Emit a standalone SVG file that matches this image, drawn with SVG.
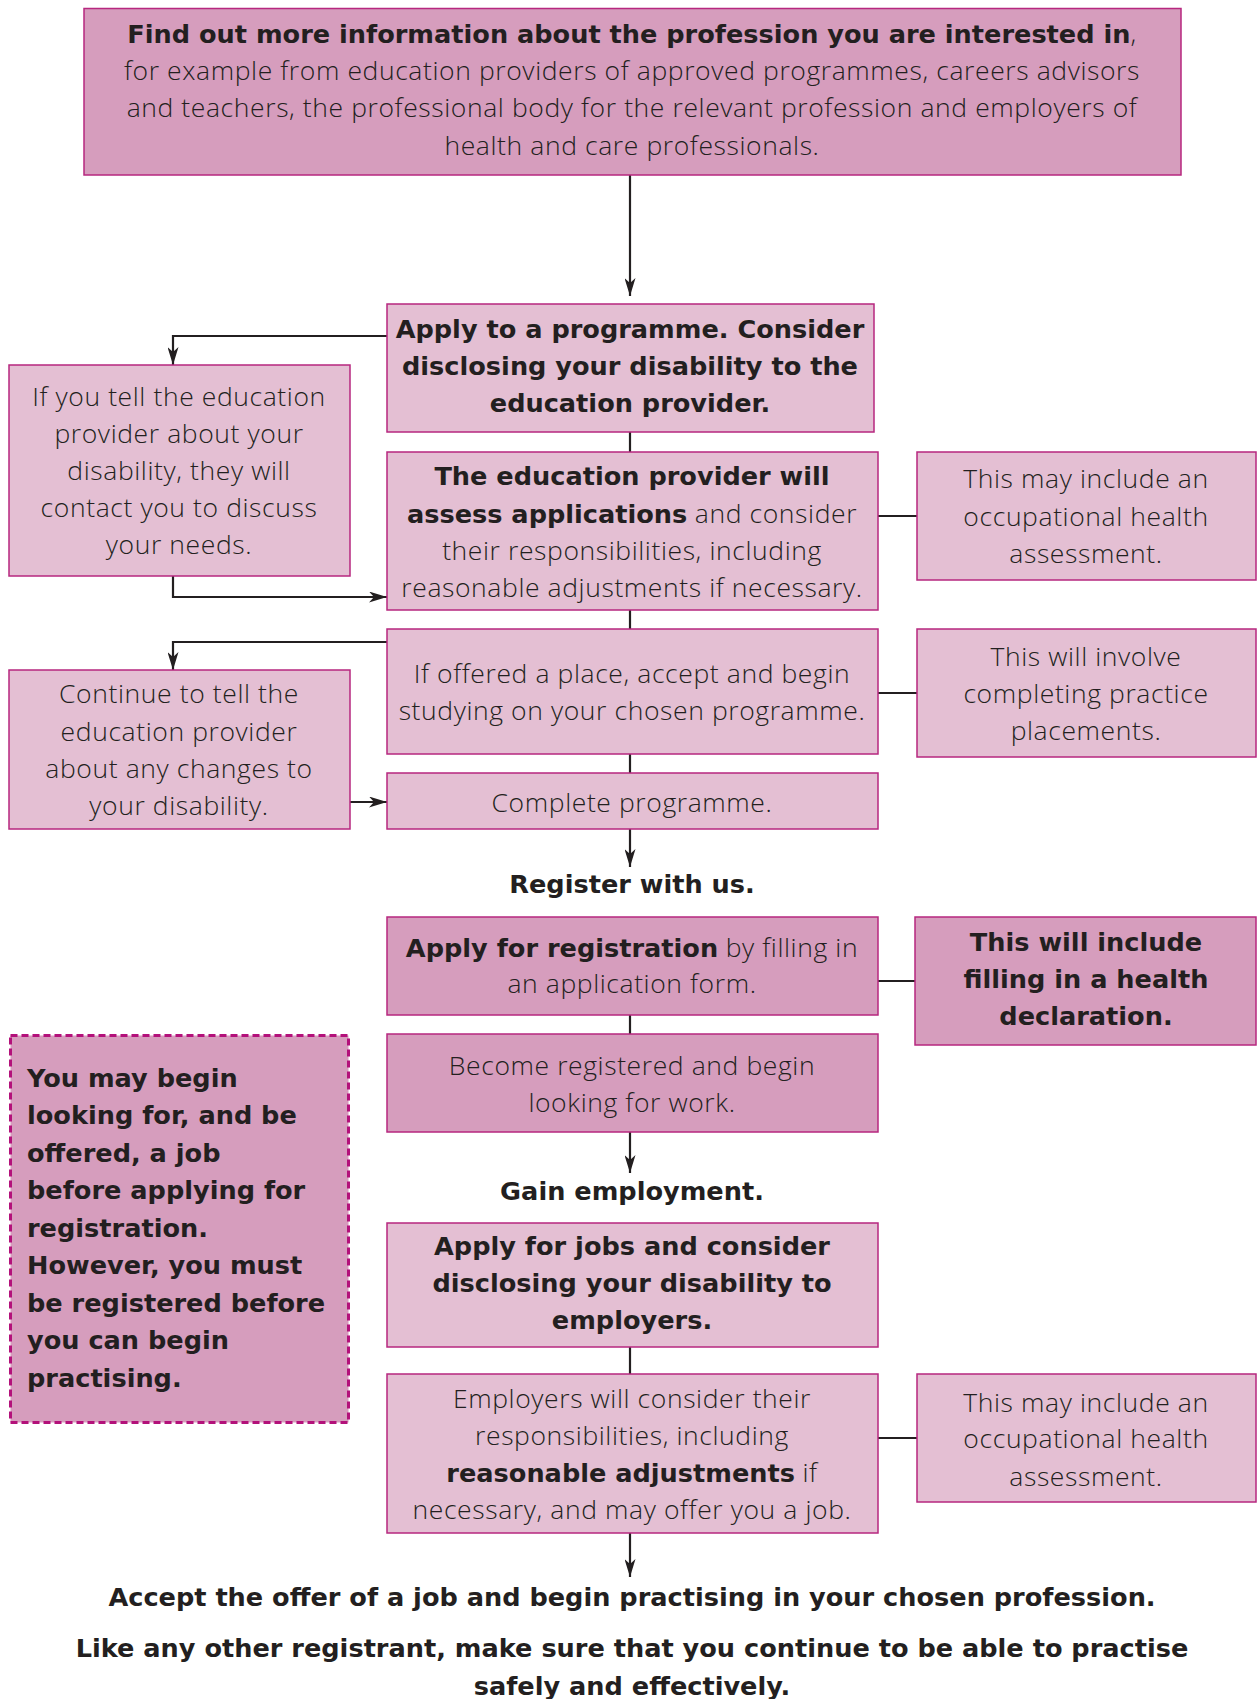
<svg xmlns="http://www.w3.org/2000/svg" width="1257" height="1699" viewBox="0 0 1257 1699">
<style>
.dark{fill:#d69dbd;stroke:#b7277f;stroke-width:1.5}
.light{fill:#e4bfd3;stroke:#b7277f;stroke-width:1.5}
.dash{fill:#d69dbd;stroke:#b3117a;stroke-width:3;stroke-dasharray:7 4}
.r{font-family:"Open Sans","Liberation Sans",sans-serif;font-weight:300;font-size:26.5px;letter-spacing:0.6px;fill:#231f20}
.b{font-family:"DejaVu Sans","Liberation Sans",sans-serif;font-weight:bold;font-size:25.6px;letter-spacing:0;fill:#231f20}
.bt{font-family:"DejaVu Sans","Liberation Sans",sans-serif;font-weight:bold;font-size:25.6px;letter-spacing:0}
.c{text-anchor:middle}
.conn path{fill:none;stroke:#231f20;stroke-width:2.2}
</style>
<defs>
<marker id="ah" viewBox="0 0 18 11" refX="18" refY="5.5" markerWidth="18" markerHeight="11" markerUnits="userSpaceOnUse" orient="auto">
<path d="M0,0 L18,5.5 L0,11 L5,5.5 Z" fill="#231f20"/>
</marker>
</defs>
<rect width="1257" height="1699" fill="#ffffff"/>

<g class="conn">
<path d="M630,175 V296" marker-end="url(#ah)"/>
<path d="M387,336 H173 V365" marker-end="url(#ah)"/>
<path d="M630,432 V452"/>
<path d="M878,516 H917"/>
<path d="M173,576 V597 H387" marker-end="url(#ah)"/>
<path d="M630,610 V629"/>
<path d="M387,642 H173 V670" marker-end="url(#ah)"/>
<path d="M878,693 H917"/>
<path d="M630,754 V773"/>
<path d="M350,802 H387" marker-end="url(#ah)"/>
<path d="M630,829 V867" marker-end="url(#ah)"/>
<path d="M630,1015 V1034"/>
<path d="M878,981 H915"/>
<path d="M630,1132 V1173" marker-end="url(#ah)"/>
<path d="M630,1347 V1374"/>
<path d="M878,1438 H917"/>
<path d="M630,1533 V1577" marker-end="url(#ah)"/>
</g>

<g id="find-out">
<rect class="dark" x="84" y="8.5" width="1097" height="166.5"/>
<text class="r c" x="632" y="43"><tspan class="bt">Find out more information about the profession you are interested in</tspan>,</text>
<text class="r c" x="632" y="80">for example from education providers of approved programmes, careers advisors</text>
<text class="r c" x="632" y="117">and teachers, the professional body for the relevant profession and employers of</text>
<text class="r c" x="632" y="155">health and care professionals.</text>
</g>

<g id="apply-programme">
<rect class="light" x="387" y="304" width="487" height="128"/>
<text class="b c" x="630" y="338">Apply to a programme. Consider</text>
<text class="b c" x="630" y="375">disclosing your disability to the</text>
<text class="b c" x="630" y="412">education provider.</text>
</g>

<g id="tell-provider">
<rect class="light" x="9" y="365" width="341" height="211"/>
<text class="r c" x="179" y="406">If you tell the education</text>
<text class="r c" x="179" y="443">provider about your</text>
<text class="r c" x="179" y="480">disability, they will</text>
<text class="r c" x="179" y="517">contact you to discuss</text>
<text class="r c" x="179" y="554">your needs.</text>
</g>

<g id="assess">
<rect class="light" x="387" y="452" width="491" height="158"/>
<text class="b c" x="632" y="485">The education provider will</text>
<text class="r c" x="632" y="523"><tspan class="bt">assess applications</tspan> and consider</text>
<text class="r c" x="632" y="560">their responsibilities, including</text>
<text class="r c" x="632" y="597">reasonable adjustments if necessary.</text>
</g>

<g id="occ-health-1">
<rect class="light" x="917" y="452" width="339" height="128"/>
<text class="r c" x="1086" y="488">This may include an</text>
<text class="r c" x="1086" y="526">occupational health</text>
<text class="r c" x="1086" y="563">assessment.</text>
</g>

<g id="offered-place">
<rect class="light" x="387" y="629" width="491" height="125"/>
<text class="r c" x="632" y="683">If offered a place, accept and begin</text>
<text class="r c" x="632" y="720">studying on your chosen programme.</text>
</g>

<g id="placements">
<rect class="light" x="917" y="629" width="339" height="128"/>
<text class="r c" x="1086" y="666">This will involve</text>
<text class="r c" x="1086" y="703">completing practice</text>
<text class="r c" x="1086" y="740">placements.</text>
</g>

<g id="continue-tell">
<rect class="light" x="9" y="670" width="341" height="159"/>
<text class="r c" x="179" y="703">Continue to tell the</text>
<text class="r c" x="179" y="741">education provider</text>
<text class="r c" x="179" y="778">about any changes to</text>
<text class="r c" x="179" y="815">your disability.</text>
</g>

<g id="complete">
<rect class="light" x="387" y="773" width="491" height="56"/>
<text class="r c" x="632" y="812">Complete programme.</text>
</g>

<g id="register">
<text class="b c" x="632" y="893">Register with us.</text>
</g>

<g id="apply-registration">
<rect class="dark" x="387" y="917" width="491" height="98"/>
<text class="r c" x="632" y="957"><tspan class="bt">Apply for registration</tspan> by filling in</text>
<text class="r c" x="632" y="993">an application form.</text>
</g>

<g id="health-declaration">
<rect class="dark" x="915" y="917" width="341" height="128"/>
<text class="b c" x="1086" y="951">This will include</text>
<text class="b c" x="1086" y="988">filling in a health</text>
<text class="b c" x="1086" y="1025">declaration.</text>
</g>

<g id="become-registered">
<rect class="dark" x="387" y="1034" width="491" height="98"/>
<text class="r c" x="632" y="1075">Become registered and begin</text>
<text class="r c" x="632" y="1112">looking for work.</text>
</g>

<g id="note">
<rect class="dash" x="10.5" y="1035.5" width="338" height="387"/>
<text class="b" x="27" y="1087">You may begin</text>
<text class="b" x="27" y="1124">looking for, and be</text>
<text class="b" x="27" y="1162">offered, a job</text>
<text class="b" x="27" y="1199">before applying for</text>
<text class="b" x="27" y="1237">registration.</text>
<text class="b" x="27" y="1274">However, you must</text>
<text class="b" x="27" y="1312">be registered before</text>
<text class="b" x="27" y="1349">you can begin</text>
<text class="b" x="27" y="1387">practising.</text>
</g>

<g id="gain">
<text class="b c" x="632" y="1200">Gain employment.</text>
</g>

<g id="apply-jobs">
<rect class="light" x="387" y="1223" width="491" height="124"/>
<text class="b c" x="632" y="1255">Apply for jobs and consider</text>
<text class="b c" x="632" y="1292">disclosing your disability to</text>
<text class="b c" x="632" y="1329">employers.</text>
</g>

<g id="employers">
<rect class="light" x="387" y="1374" width="491" height="159"/>
<text class="r c" x="632" y="1408">Employers will consider their</text>
<text class="r c" x="632" y="1445">responsibilities, including</text>
<text class="r c" x="632" y="1482"><tspan class="bt">reasonable adjustments</tspan> if</text>
<text class="r c" x="632" y="1519">necessary, and may offer you a job.</text>
</g>

<g id="occ-health-2">
<rect class="light" x="917" y="1374" width="339" height="128"/>
<text class="r c" x="1086" y="1412">This may include an</text>
<text class="r c" x="1086" y="1448">occupational health</text>
<text class="r c" x="1086" y="1486">assessment.</text>
</g>

<g id="accept">
<text class="b c" x="632" y="1606">Accept the offer of a job and begin practising in your chosen profession.</text>
<text class="b c" x="632" y="1657">Like any other registrant, make sure that you continue to be able to practise</text>
<text class="b c" x="632" y="1695">safely and effectively.</text>
</g>
</svg>
